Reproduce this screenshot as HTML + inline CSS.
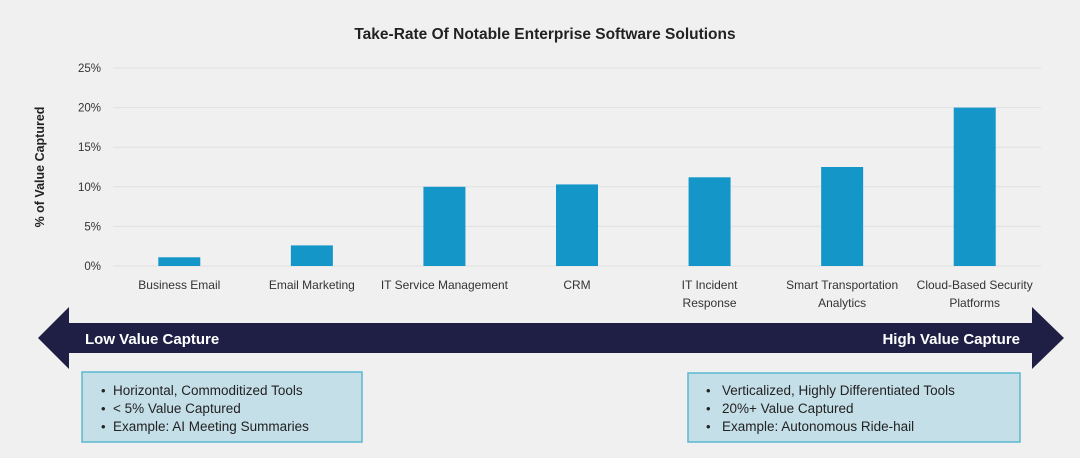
<!DOCTYPE html>
<html><head><meta charset="utf-8"><style>
html,body{margin:0;padding:0;background:#f0f0f0;}
body{width:1080px;height:453px;overflow:hidden;font-family:"Liberation Sans",sans-serif;}
svg text{font-family:"Liberation Sans",sans-serif;}
</style></head><body>
<svg id="c" width="1080" height="453">
<rect width="1080" height="453" fill="#f0f0f0"/>
<text x="545" y="39" text-anchor="middle" font-size="15.5" font-weight="bold" fill="#222">Take-Rate Of Notable Enterprise Software Solutions</text>
<text transform="translate(44,167) rotate(-90)" text-anchor="middle" font-size="12.5" font-weight="bold" fill="#222">% of Value Captured</text>
<g id="grid"></g><g id="bars"></g><g id="xl"></g>
<polygon points="38,338 69,307 69,323 1032,323 1032,307 1064,338 1032,369 1032,353 69,353 69,369" fill="#1f1f45"/>
<text x="85" y="344" font-size="15" font-weight="bold" fill="#fff">Low Value Capture</text>
<text x="1020" y="344" text-anchor="end" font-size="15" font-weight="bold" fill="#fff">High Value Capture</text>
<g>
<rect x="82" y="372" width="280" height="70" fill="#c5dfe8" stroke="#5ab8d0" stroke-width="1.5"/>
<text font-size="13" fill="#222"><tspan x="101" y="395">•</tspan><tspan x="101" y="413">•</tspan><tspan x="101" y="431">•</tspan></text>
<text font-size="13.5" fill="#222"><tspan x="113" y="395">Horizontal, Commoditized Tools</tspan><tspan x="113" y="413">&lt; 5% Value Captured</tspan><tspan x="113" y="431">Example: AI Meeting Summaries</tspan></text>
</g>
<g>
<rect x="688" y="373" width="332" height="69" fill="#c5dfe8" stroke="#5ab8d0" stroke-width="1.5"/>
<text font-size="13" fill="#222"><tspan x="706" y="395">•</tspan><tspan x="706" y="413">•</tspan><tspan x="706" y="431">•</tspan></text>
<text font-size="13.5" fill="#222"><tspan x="722" y="395">Verticalized, Highly Differentiated Tools</tspan><tspan x="722" y="413">20%+ Value Captured</tspan><tspan x="722" y="431">Example: Autonomous Ride-hail</tspan></text>
</g>
</svg>
<script>
const categories=[["Business Email"],["Email Marketing"],["IT Service Management"],["CRM"],["IT Incident","Response"],["Smart Transportation","Analytics"],["Cloud-Based Security","Platforms"]];
const values=[1.1,2.6,10.0,10.3,11.2,12.5,20.0];
const ticks=[0,5,10,15,20,25];
const tickLabels=["0%","5%","10%","15%","20%","25%"];
const NS="http://www.w3.org/2000/svg";
const x0=113,x1=1041,yBase=266,pxPer=7.92,bw=42;
const band=(x1-x0)/categories.length;
const y=v=>yBase-v*pxPer;
const xc=i=>x0+band*(i+0.5);
function mk(t,a,p){const e=document.createElementNS(NS,t);for(const k in a)e.setAttribute(k,a[k]);p.appendChild(e);return e;}
const g=document.getElementById('grid');
ticks.forEach((t,i)=>{
 const l=mk('line',{x1:x0,x2:x1,y1:y(t),y2:y(t),stroke:'#e0e0e0','stroke-width':1},g);
 
 
 const tx=mk('text',{x:101,y:y(t)+4,'text-anchor':'end','font-size':11.5,fill:'#333'},g);
 tx.textContent=tickLabels[i];
 
 
});
const b=document.getElementById('bars'),xl=document.getElementById('xl');
values.forEach((v,i)=>{
 const r=mk('rect',{x:xc(i)-bw/2,y:y(v),width:bw,height:yBase-y(v),fill:'#1496c8'},b);
 
 
 const t=mk('text',{'text-anchor':'middle','font-size':12,fill:'#333'},xl);
 
 
 categories[i].forEach((s,j)=>{const ts=mk('tspan',{x:xc(i),y:289+j*18},t);ts.textContent=s;});
});
</script>
</body></html>
